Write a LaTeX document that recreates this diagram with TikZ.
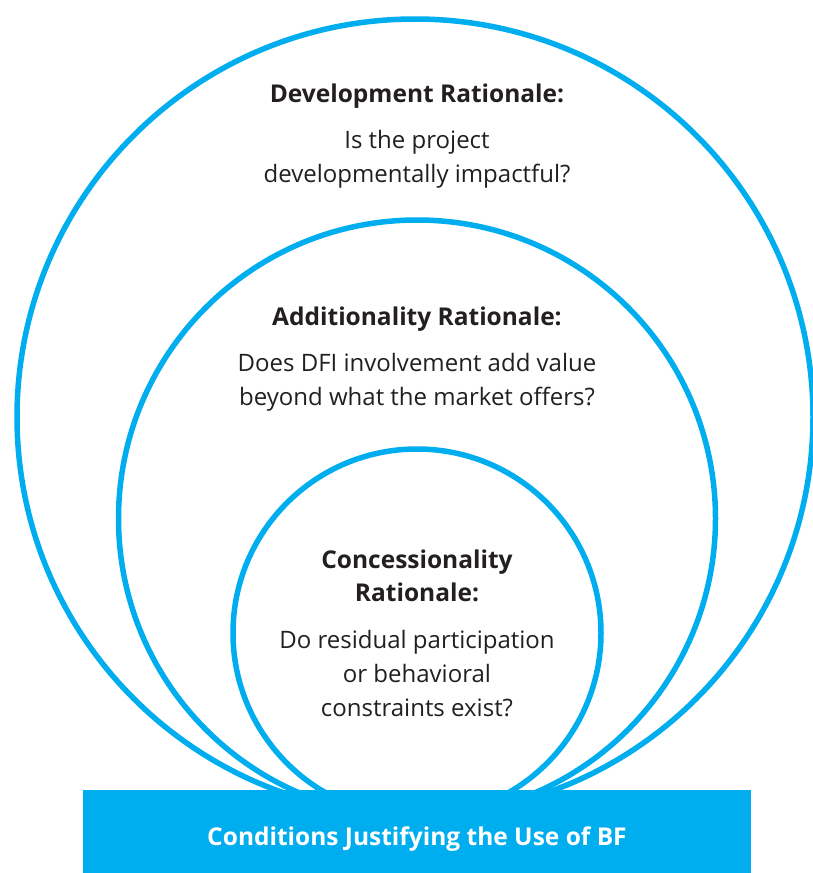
\documentclass[tikz,border=0pt]{standalone}
\usepackage{fontspec}
\setmainfont{Open Sans}
\usetikzlibrary{positioning}
\definecolor{ringblue}{HTML}{00AEEF}
\definecolor{inkgray}{HTML}{231F20}
\tikzset{
    ring/.style={circle,draw=ringblue,line width=5.5pt,inner sep=0pt},
    heading/.style={font=\bfseries\fontsize{24.5}{33}\selectfont,text=inkgray,align=center,inner sep=0pt},
    question/.style={font=\fontsize{24}{34}\selectfont,text=inkgray,align=center,inner sep=0pt},
    banner/.style={fill=ringblue,text=white,font=\bfseries\fontsize{24.5}{25}\selectfont,
        minimum width=668pt,minimum height=83pt,inner sep=0pt,text height=27pt,text depth=0pt},
}

\begin{document}
\begin{tikzpicture}[x=1pt,y=-1pt]
    \useasboundingbox (0,0) rectangle (813,873);
    \node[ring,minimum size=796pt] (dev) at (415,417) {};
    \node[ring,minimum size=597pt] (add) at (417,518.5) {};
    \node[ring,minimum size=368pt] (conc) at (417,633) {};
    \node[banner] (cond) at (417,831.5) {Conditions Justifying the Use of BF};

    \node[heading] (devhead) at (417,96) {Development Rationale:};
    \node[question,below=22pt of devhead] (devq) {Is the project\\developmentally impactful?};
    \node[heading] (addhead) at (417,319) {Additionality Rationale:};
    \node[question,below=22pt of addhead] (addq) {Does DFI involvement add value\\beyond what the market offers?};
    \node[heading] (conchead) at (417,575.5) {Concessionality\\Rationale:};
    \node[question,below=28pt of conchead] (concq) {Do residual participation\\or behavioral\\constraints exist?};
\end{tikzpicture}
\end{document}
